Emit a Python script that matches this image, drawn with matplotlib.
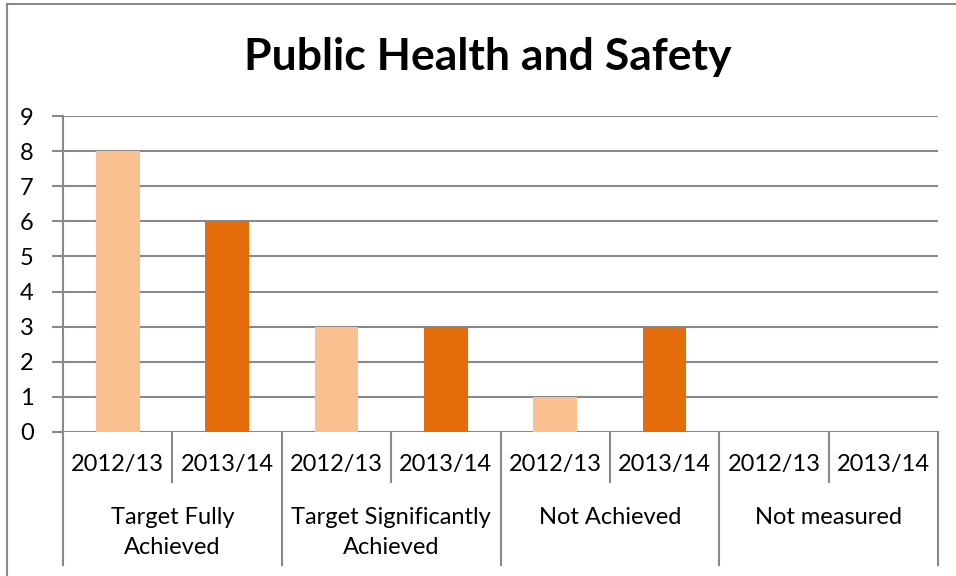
import matplotlib.pyplot as plt
import matplotlib.transforms as mtransforms
from matplotlib.patches import Rectangle

groups = ["Target Fully\nAchieved", "Target Significantly\nAchieved", "Not Achieved", "Not measured"]
years = ["2012/13", "2013/14"]
values = [8, 6, 3, 3, 1, 3, 0, 0]
colors = ["#FAC090", "#E46C0A"]

plt.rcParams['font.family'] = ['Lato', 'DejaVu Sans']
grid_col = "#898989"
fs = 17

fig = plt.figure(figsize=(9.56, 5.76), dpi=100)
ax = fig.add_axes([63/956, 1-432/576, (938-63)/956, (432-116)/576])

n = len(values)
x = list(range(n))
bar_cols = [colors[i % 2] for i in x]
ax.bar(x, values, width=0.4, color=bar_cols, zorder=3)

ax.set_xlim(-0.5, n - 0.5)
ax.set_ylim(0, 9)
ax.set_yticks(range(10))
ax.tick_params(axis='y', length=8, width=1.5, color=grid_col, labelsize=fs, pad=13)
ax.yaxis.grid(True, color=grid_col, linewidth=1.5, zorder=0)
ax.set_xticks([])
for s in ["top", "right", "bottom"]:
    ax.spines[s].set_visible(False)
ax.spines["left"].set_color(grid_col)
ax.spines["left"].set_linewidth(1.5)

trans = mtransforms.blended_transform_factory(ax.transData, ax.transAxes)
h_px = 432 - 116
short = -50 / h_px
long = -133 / h_px
for i in range(n + 1):
    xb = i - 0.5
    y1 = long if i % 2 == 0 else short
    ax.plot([xb, xb], [0, y1], transform=trans, color=grid_col, lw=1.5, clip_on=False)
for i in range(n):
    ax.text(i, -33 / h_px, years[i % 2], transform=trans, ha="center", va="center", fontsize=fs)
for g, name in enumerate(groups):
    lines = name.split("\n")
    if len(lines) == 2:
        ax.text(2 * g + 0.5, -85 / h_px, lines[0], transform=trans, ha="center", va="center", fontsize=fs)
        ax.text(2 * g + 0.5, -116 / h_px, lines[1], transform=trans, ha="center", va="center", fontsize=fs)
    else:
        ax.text(2 * g + 0.5, -85 / h_px, name, transform=trans, ha="center", va="center", fontsize=fs)

fig.text(488/956, 1-57/576, "Public Health and Safety", ha="center", va="center",
         fontsize=32, fontweight="bold")

fig.patches.append(Rectangle((7/956, -0.1), 1.2, 1 - 4/576 + 0.1, transform=fig.transFigure,
                             fill=False, edgecolor=grid_col, lw=1.5))

fig.savefig("out.png", dpi=100)
